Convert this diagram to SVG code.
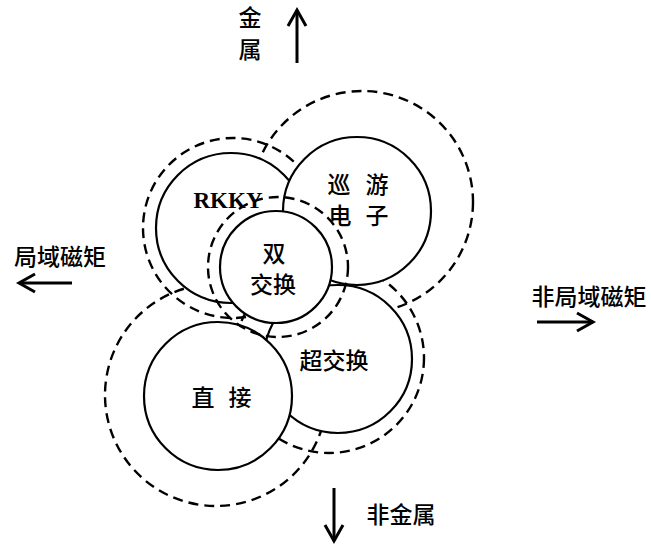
<svg xmlns="http://www.w3.org/2000/svg" width="651" height="547" viewBox="0 0 651 547">
  <defs>
    <marker id="head" markerUnits="userSpaceOnUse" markerWidth="20" markerHeight="20" refX="17" refY="9" orient="auto" overflow="visible">
      <path d="M1,0 L17,9 L1,18" fill="none" stroke="#000" stroke-width="3" stroke-linejoin="miter"/>
    </marker>
  </defs>
  <style>
    .solid { fill: #fff; stroke: #000; stroke-width: 2.2; }
    .halo { fill: none; stroke: #000; stroke-width: 2.4; stroke-dasharray: 10 6; }
    .arrow { stroke: #000; stroke-width: 3; fill: none; marker-end: url(#head); }
    .cjk { font-family: "Noto Sans CJK SC", "Noto Sans", sans-serif; font-weight: 500; font-size: 23px; fill: #000; text-anchor: middle; dominant-baseline: central; }
    .latin { font-family: "Liberation Serif", serif; font-weight: bold; font-size: 23px; fill: #000; text-anchor: middle; dominant-baseline: central; }
  </style>
  <rect width="651" height="547" fill="#fff"/>

  <g id="connectors">
    <line class="arrow" x1="297" y1="63" x2="297" y2="10"/>
    <line class="arrow" x1="72" y1="283" x2="19" y2="283"/>
    <line class="arrow" x1="537" y1="322" x2="593" y2="322"/>
    <line class="arrow" x1="334" y1="488" x2="334" y2="541"/>
  </g>

  <g id="axis-labels">
    <text class="cjk" x="250" y="16">金</text>
    <text class="cjk" x="250" y="48">属</text>
    <text class="cjk" x="60" y="255">局域磁矩</text>
    <text class="cjk" x="589" y="295">非局域磁矩</text>
    <text class="cjk" x="401" y="513">非金属</text>
  </g>

  <g id="halos">
    <circle id="halo-itinerant" class="halo" cx="362" cy="202" r="111"/>
    <circle id="halo-rkky" class="halo" cx="233" cy="228" r="90"/>
    <circle id="halo-super" class="halo" cx="329" cy="358" r="95"/>
    <circle id="halo-direct" class="halo" cx="216" cy="395" r="111"/>
  </g>

  <g id="node-rkky">
    <circle class="solid" cx="231" cy="228" r="75"/>
    <text class="latin" x="228" y="200">RKKY</text>
  </g>

  <g id="node-itinerant">
    <circle class="solid" cx="357" cy="211" r="74"/>
    <text class="cjk" x="339" y="183">巡</text>
    <text class="cjk" x="377" y="183">游</text>
    <text class="cjk" x="340" y="214">电</text>
    <text class="cjk" x="377" y="214">子</text>
  </g>

  <g id="node-superexchange">
    <circle class="solid" cx="338" cy="359" r="74"/>
    <text class="cjk" x="334" y="359">超交换</text>
  </g>

  <g id="node-direct">
    <circle class="solid" cx="218" cy="396" r="74"/>
    <text class="cjk" x="203" y="396">直</text>
    <text class="cjk" x="240" y="396">接</text>
  </g>

  <g id="node-double">
    <circle class="halo" cx="278" cy="267" r="70"/>
    <circle class="solid" cx="276" cy="267" r="56"/>
    <text class="cjk" x="274" y="252">双</text>
    <text class="cjk" x="273" y="283">交换</text>
  </g>
</svg>
